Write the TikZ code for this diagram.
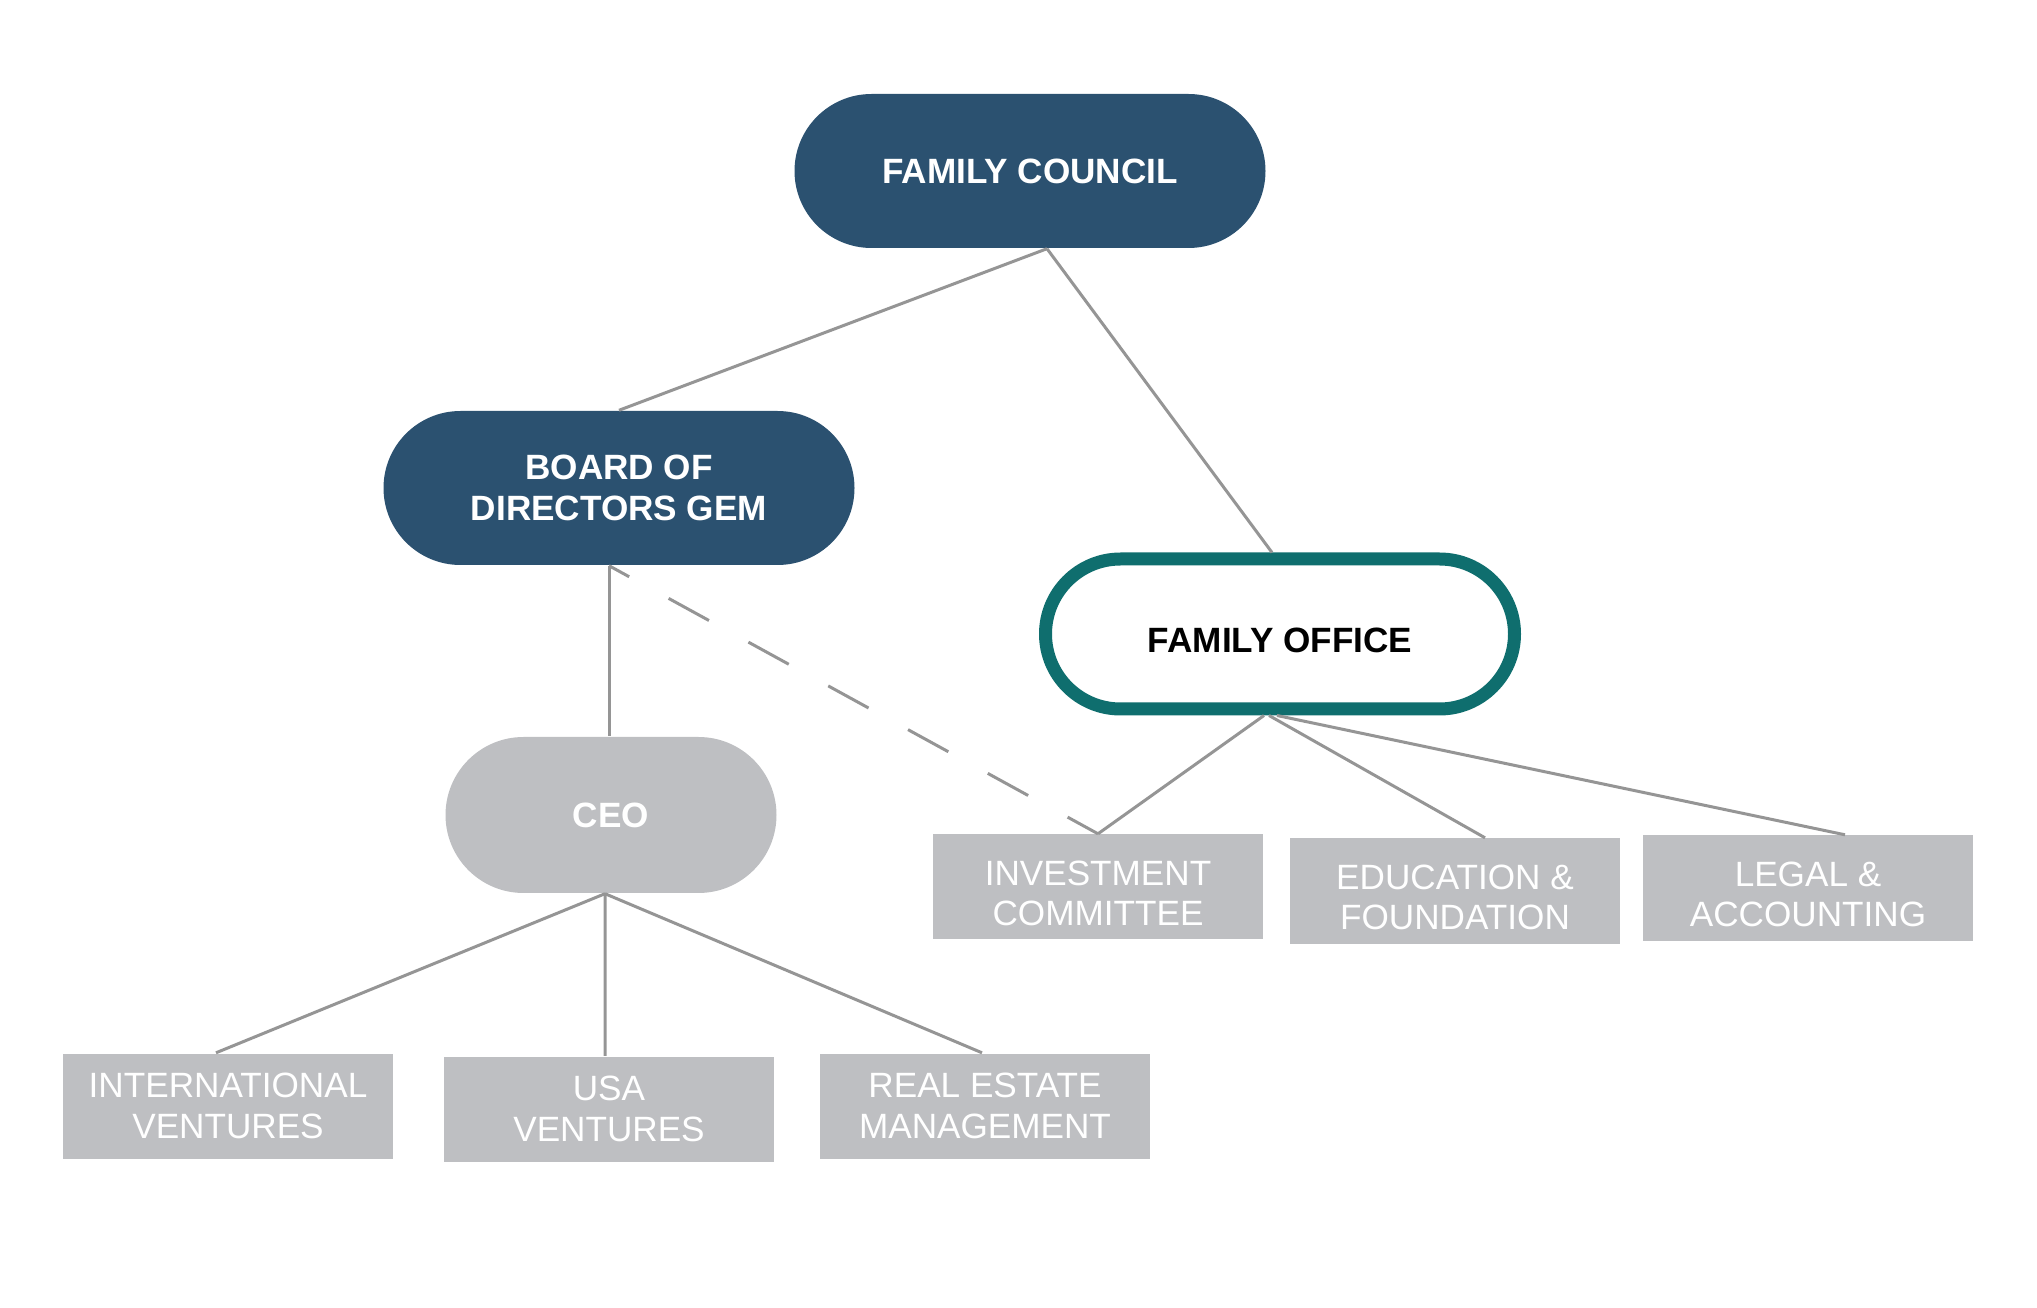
\documentclass[tikz,border=0pt]{standalone}
\usepackage{fontspec}
\setmainfont{Liberation Sans}
\usetikzlibrary{positioning,calc}
\definecolor{navycol}{HTML}{2B5170}
\definecolor{tealcol}{HTML}{0F6E6E}
\definecolor{greycol}{HTML}{BEBFC2}
\definecolor{linecol}{HTML}{959595}

\begin{document}
\begin{tikzpicture}[
  pill/.style={rounded corners=0.77cm,minimum width=4.71cm,minimum height=1.54cm,align=center,
    font=\bfseries\fontsize{10}{11.5}\selectfont},
  unit/.style={fill=greycol,minimum width=3.30cm,minimum height=1.05cm,text=white,align=center,
    font=\fontsize{10}{11.5}\selectfont},
  lowered/.style={execute at begin node={\rule{0pt}{#1}}},
  lowered/.default=10.7pt,
  link/.style={draw=linecol,line width=0.03cm}]
  \useasboundingbox (0,0) rectangle (20.37,-13.08);
  % governance
  \node[pill,fill=navycol,text=white] (fc) at (10.30,-1.71) {FAMILY COUNCIL};
  \node[pill,fill=navycol,text=white] (bod) at (6.19,-4.88) {BOARD OF\\DIRECTORS GEM};
  \node[pill,lowered,draw=tealcol,line width=0.13cm,fill=white,minimum width=4.69cm,minimum height=1.50cm,
    rounded corners=0.75cm,text=black] (fo) at (12.80,-6.34) {FAMILY OFFICE};
  \node[pill,fill=greycol,text=white,minimum width=3.31cm,minimum height=1.56cm,rounded corners=0.78cm]
    (ceo) at (6.11,-8.15) {CEO};
  % family office units
  \node[unit,lowered=22.2pt] (inv) at (10.98,-8.87) {INVESTMENT\\COMMITTEE};
  \node[unit,lowered=22.2pt] (edu) at (14.55,-8.91) {EDUCATION \&\\FOUNDATION};
  \node[unit,lowered=22.2pt] (legal) at (18.08,-8.88) {LEGAL \&\\ACCOUNTING};
  % operating units
  \node[unit] (intl) at (2.28,-11.06) {INTERNATIONAL\\VENTURES};
  \node[unit] (usa) at (6.09,-11.09) {USA\\VENTURES};
  \node[unit] (realest) at (9.85,-11.06) {REAL ESTATE\\MANAGEMENT};
  % connectors
  \coordinate (fcfoot) at ($(fc.south)+(0.17,0)$);
  \coordinate (bodfoot) at ($(bod.south)+(-0.10,0)$);
  \coordinate (ceofoot) at ($(ceo.south)+(-0.06,0)$);
  \draw[link] (fcfoot) -- (bod.north);
  \draw[link] (fcfoot) -- ($(fo.north)+(-0.08,0)$);
  \draw[link] (bodfoot) -- (bodfoot |- ceo.north);
  \draw[link,dash pattern=on 0.46cm off 0.45cm,dash phase=0.23cm] (bodfoot) -- (inv.north);
  \draw[link] ($(fo.south)+(-0.16,0)$) -- (inv.north);
  \draw[link] ($(fo.south)+(-0.11,0)$) -- ($(edu.north)+(0.30,0)$);
  \draw[link] ($(fo.south)+(-0.03,0)$) -- ($(legal.north)+(0.37,0)$);
  \draw[link] (ceofoot) -- ($(intl.north)+(-0.12,0)$);
  \draw[link] (ceofoot) -- ($(usa.north)+(-0.04,0)$);
  \draw[link] (ceofoot) -- ($(realest.north)+(-0.03,0)$);
\end{tikzpicture}
\end{document}
